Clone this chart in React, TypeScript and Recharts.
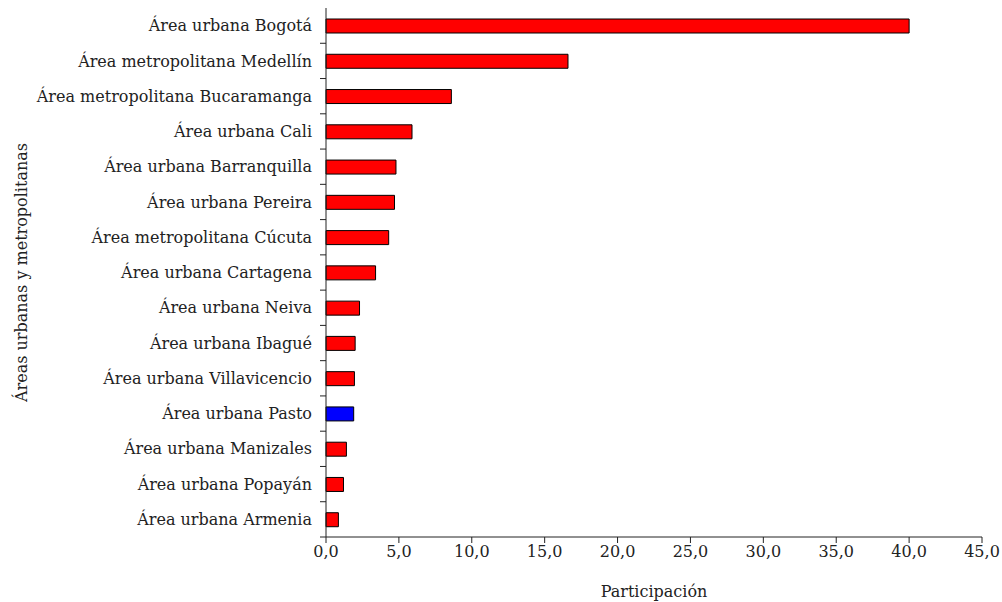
import { BarChart, Bar, XAxis, YAxis, Cell, Label } from 'recharts'

const areas = [
    'Área urbana Bogotá',
    'Área metropolitana Medellín',
    'Área metropolitana Bucaramanga',
    'Área urbana Cali',
    'Área urbana Barranquilla',
    'Área urbana Pereira',
    'Área metropolitana Cúcuta',
    'Área urbana Cartagena',
    'Área urbana Neiva',
    'Área urbana Ibagué',
    'Área urbana Villavicencio',
    'Área urbana Pasto',
    'Área urbana Manizales',
    'Área urbana Popayán',
    'Área urbana Armenia',
]
const participacion = [40.0, 16.6, 8.6, 5.9, 4.8, 4.7, 4.3, 3.4, 2.3, 2.0, 1.95, 1.9, 1.4, 1.2, 0.85]
const highlighted = ['Área urbana Pasto']
const xTicks = [0, 5, 10, 15, 20, 25, 30, 35, 40, 45]

const FONT = '"DejaVu Serif", serif'
const TEXT = '#222'
const AXIS = '#222'
const FS = 16
const TICK_SIZE = 6
const TICK_MARGIN = 8

const chartData = areas.map((name, i) => ({ name, value: participacion[i] }))

const fmt = (v: number) => v.toFixed(1).replace('.', ',')

// category ticks sit between bars (like the original), label stays centred
function AreaTick(props: any) {
    const { x, y, payload } = props
    const half = payload?.offset ?? 0
    const axisX = x + TICK_MARGIN + TICK_SIZE
    return (
        <g>
            <text x={x} y={y} dy="0.35em" textAnchor="end" fill={TEXT} fontSize={FS} fontFamily={FONT}>
                {payload.value}
            </text>
            <line x1={axisX - TICK_SIZE} x2={axisX} y1={y + half} y2={y + half} stroke={AXIS} />
        </g>
    )
}

export default function App() {
    return (
        <div style={{ position: 'absolute', left: 0, top: 0, width: 1002, height: 602, background: '#fff' }}>
            <BarChart
                width={1002}
                height={602}
                data={chartData}
                layout="vertical"
                margin={{ top: 8, right: 20, bottom: 0, left: 0 }}
            >
                <XAxis
                    type="number"
                    domain={[0, 45]}
                    ticks={xTicks}
                    tickFormatter={fmt}
                    stroke={AXIS}
                    tickSize={TICK_SIZE}
                    tickMargin={3}
                    tick={{ fill: TEXT, fontSize: FS, fontFamily: FONT }}
                    height={65}
                >
                    <Label value="Participación" position="insideBottom" offset={5} fill={TEXT} fontSize={FS} fontFamily={FONT} />
                </XAxis>
                <YAxis
                    type="category"
                    dataKey="name"
                    width={326}
                    stroke={AXIS}
                    tickLine={false}
                    tickSize={TICK_SIZE}
                    tickMargin={TICK_MARGIN}
                    tick={<AreaTick />}
                    interval={0}
                >
                    <Label
                        value="Áreas urbanas y metropolitanas"
                        angle={-90}
                        position="insideLeft"
                        offset={21}
                        style={{ textAnchor: 'middle' }}
                        fill={TEXT}
                        fontSize={FS}
                        fontFamily={FONT}
                    />
                </YAxis>
                <Bar dataKey="value" barSize={14} stroke="#000" strokeWidth={1} isAnimationActive={false}>
                    {chartData.map(d => (
                        <Cell key={d.name} fill={highlighted.includes(d.name) ? '#0000FF' : '#FF0000'} />
                    ))}
                </Bar>
            </BarChart>
        </div>
    )
}
